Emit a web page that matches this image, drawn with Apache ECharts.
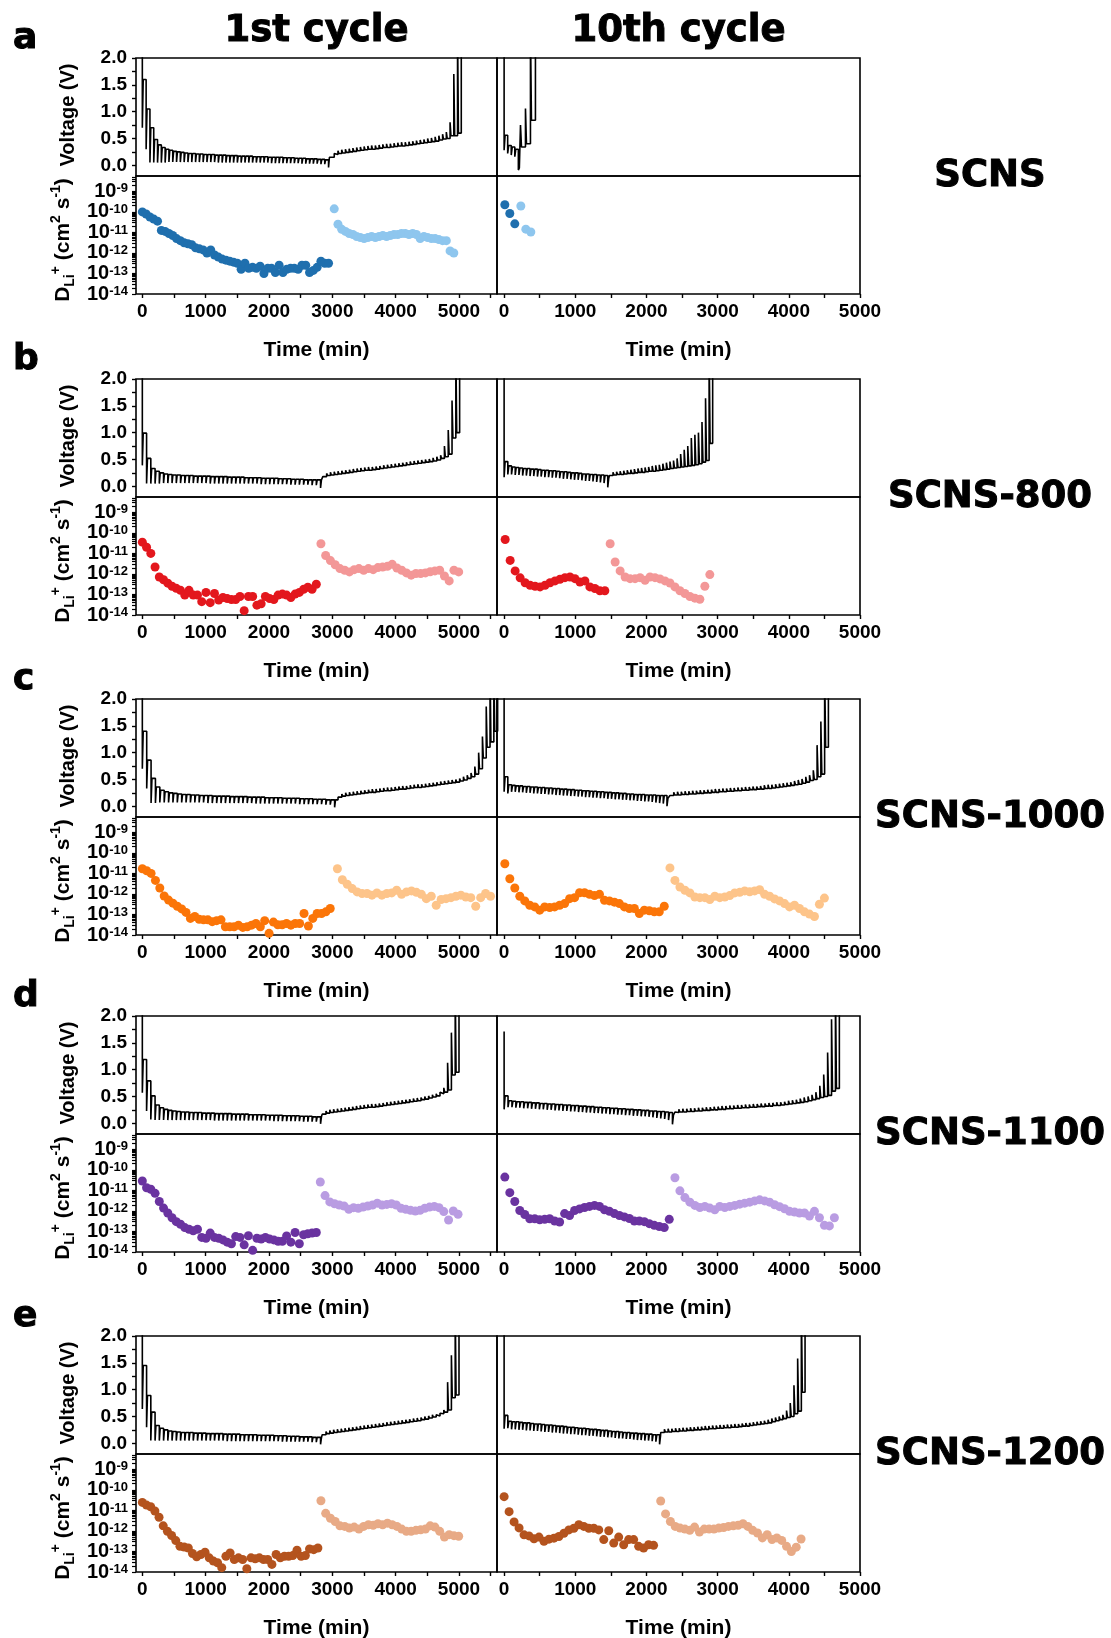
<!DOCTYPE html>
<html><head><meta charset="utf-8">
<script src="https://cdn.jsdelivr.net/npm/echarts@6/dist/echarts.min.js"></script>
<style>html,body{margin:0;padding:0;background:#fff}#c{width:1111px;height:1638px}</style>
</head><body><div id="c"></div>
<script>
// ===================== DATA =====================
// Time params: [discharge start, discharge step, charge start, charge step] (min)
// Voltage: relaxed level before each pulse (OCV) and pulse extreme (V)
// D: log10 of D_Li+ (cm2 s-1), one point per GITT step

// ---- SCNS, 1st cycle ----
const a1_tV = [0, 60, 3030, 59];
const a1_disOCV = [2.6,1.6,1.05,0.7,0.48,0.38,0.33,0.3,0.28,0.26,0.25,0.24,0.23,0.22,0.22,0.21,0.21,0.2,0.2,0.2,0.19,0.19,0.19,0.18,0.18,0.18,0.17,0.17,0.17,0.17,0.16,0.16,0.16,0.16,0.15,0.15,0.15,0.15,0.14,0.14,0.14,0.13,0.13,0.13,0.12,0.12,0.12,0.11,0.11,0.1];
const a1_disPulse = [0.7,0.3,0.05,0.05,0.05,0.05,0.05,0.06,0.06,0.06,0.06,0.06,0.06,0.06,0.06,0.06,0.06,0.06,0.06,0.06,0.05,0.05,0.05,0.05,0.05,0.05,0.05,0.05,0.05,0.05,0.05,0.05,0.05,0.05,0.04,0.04,0.04,0.04,0.04,0.04,0.04,0.04,0.03,0.03,0.03,0.03,0.03,0.02,0.02,-0.04];
const a1_chgOCV = [0.15,0.2,0.22,0.23,0.24,0.25,0.26,0.27,0.28,0.29,0.3,0.3,0.31,0.32,0.33,0.33,0.34,0.35,0.36,0.36,0.37,0.38,0.39,0.4,0.41,0.42,0.43,0.44,0.45,0.47,0.49,0.5,0.55,0.55,0.6];
const a1_chgPulse = [0.22,0.27,0.29,0.3,0.31,0.32,0.33,0.34,0.35,0.36,0.37,0.37,0.38,0.39,0.4,0.4,0.41,0.42,0.43,0.43,0.44,0.45,0.46,0.47,0.48,0.5,0.51,0.53,0.55,0.58,0.62,0.8,1.7,2.6,2.6];
const a1_tD = [0, 60, 3030, 59];
const a1_disD = [-10.0,-10.1,-10.25,-10.35,-10.45,-10.9,-10.95,-11.05,-11.15,-11.3,-11.4,-11.5,-11.55,-11.6,-11.75,-11.8,-11.85,-12.0,-11.85,-12.1,-12.2,-12.3,-12.35,-12.4,-12.45,-12.5,-12.8,-12.5,-12.75,-12.7,-12.75,-12.65,-13.0,-12.75,-12.75,-12.95,-12.6,-12.95,-12.8,-12.75,-12.75,-12.8,-12.6,-12.6,-12.95,-12.85,-12.7,-12.4,-12.5,-12.5];
const a1_chgD = [-9.85,-10.6,-10.85,-10.95,-11.05,-11.1,-11.2,-11.25,-11.3,-11.25,-11.2,-11.25,-11.2,-11.15,-11.2,-11.15,-11.1,-11.1,-11.05,-11.05,-11.1,-11.05,-11.1,-11.3,-11.2,-11.25,-11.3,-11.3,-11.35,-11.4,-11.4,-11.9,-12.0];

// ---- SCNS, 10th cycle ----
const a10_tV = [0, 50, 230, 70];
const a10_disOCV = [2.6,0.56,0.37,0.34,0.3];
const a10_disPulse = [0.28,0.22,0.19,0.16,-0.09];
const a10_chgOCV = [-0.05,0.34,0.4,0.84];
const a10_chgPulse = [0.75,1.06,2.6,2.6];
const a10_tD = [10, 70, 235, 70];
const a10_disD = [-9.65,-10.08,-10.58];
const a10_chgD = [-9.71,-10.84,-10.98];

// ---- SCNS-800, 1st cycle ----
const b1_tV = [0, 67, 2850, 60];
const b1_disOCV = [2.6,0.99,0.52,0.33,0.28,0.25,0.23,0.22,0.21,0.21,0.2,0.2,0.2,0.19,0.19,0.19,0.19,0.18,0.18,0.18,0.18,0.17,0.17,0.17,0.17,0.16,0.16,0.16,0.16,0.15,0.15,0.15,0.15,0.14,0.14,0.14,0.13,0.13,0.13,0.12,0.12,0.12,0.12];
const b1_disPulse = [0.39,0.05,0.05,0.05,0.05,0.06,0.06,0.06,0.06,0.06,0.06,0.06,0.06,0.06,0.06,0.06,0.05,0.05,0.05,0.05,0.05,0.05,0.05,0.05,0.05,0.05,0.05,0.05,0.04,0.04,0.04,0.04,0.04,0.04,0.04,0.03,0.03,0.03,0.03,0.03,0.02,0.02,-0.03];
const b1_chgOCV = [0.12,0.18,0.2,0.21,0.22,0.23,0.24,0.25,0.26,0.27,0.28,0.29,0.3,0.3,0.31,0.32,0.33,0.34,0.35,0.36,0.37,0.38,0.39,0.4,0.41,0.42,0.43,0.44,0.45,0.46,0.47,0.49,0.52,0.55,0.6,0.9,1.0];
const b1_chgPulse = [0.18,0.24,0.26,0.27,0.28,0.29,0.3,0.31,0.32,0.33,0.34,0.35,0.36,0.36,0.37,0.38,0.39,0.4,0.41,0.42,0.43,0.44,0.45,0.46,0.47,0.48,0.49,0.5,0.51,0.53,0.55,0.58,0.75,1.05,1.6,2.6,2.6];
const b1_tD = [0, 67, 2820, 75];
const b1_disD = [-10.45,-10.7,-11.0,-11.66,-12.15,-12.28,-12.45,-12.6,-12.7,-12.8,-13.03,-12.8,-13.03,-13.03,-13.35,-12.9,-13.4,-12.95,-13.27,-13.15,-13.2,-13.25,-13.25,-13.1,-13.79,-13.1,-13.1,-13.52,-13.45,-13.1,-13.2,-13.25,-13.03,-12.98,-13.03,-13.15,-12.98,-12.9,-12.75,-12.65,-12.75,-12.5];
const b1_chgD = [-10.53,-11.1,-11.35,-11.55,-11.74,-11.82,-11.9,-11.79,-11.74,-11.82,-11.74,-11.79,-11.69,-11.66,-11.63,-11.53,-11.71,-11.82,-11.95,-12.06,-11.98,-11.98,-11.95,-11.89,-11.85,-11.82,-12.1,-12.34,-11.82,-11.9];

// ---- SCNS-800, 10th cycle ----
const b10_tV = [0, 52, 1480, 50];
const b10_disOCV = [2.6,0.46,0.38,0.36,0.35,0.34,0.33,0.33,0.32,0.32,0.31,0.3,0.3,0.29,0.29,0.28,0.27,0.27,0.26,0.25,0.25,0.24,0.23,0.23,0.22,0.22,0.21,0.21,0.2];
const b10_disPulse = [0.17,0.22,0.22,0.21,0.21,0.2,0.2,0.19,0.19,0.18,0.18,0.17,0.17,0.16,0.16,0.15,0.14,0.14,0.13,0.12,0.12,0.11,0.1,0.1,0.09,0.08,0.07,0.06,-0.02];
const b10_chgOCV = [0.15,0.2,0.21,0.22,0.22,0.23,0.24,0.24,0.25,0.26,0.26,0.27,0.28,0.28,0.29,0.3,0.31,0.32,0.33,0.34,0.35,0.36,0.37,0.38,0.39,0.4,0.42,0.45,0.48,0.8];
const b10_chgPulse = [0.2,0.26,0.27,0.28,0.29,0.3,0.31,0.32,0.33,0.34,0.35,0.36,0.38,0.39,0.4,0.42,0.44,0.46,0.48,0.52,0.6,0.68,0.75,0.9,0.96,1.0,1.2,1.64,2.6,2.6];
const b10_tD = [15, 70, 1490, 70];
const b10_disD = [-10.32,-11.34,-11.85,-12.19,-12.43,-12.55,-12.6,-12.63,-12.55,-12.43,-12.34,-12.26,-12.18,-12.15,-12.23,-12.39,-12.34,-12.63,-12.71,-12.82,-12.82];
const b10_chgD = [-10.53,-11.42,-11.85,-12.15,-12.23,-12.23,-12.18,-12.31,-12.15,-12.18,-12.24,-12.34,-12.44,-12.63,-12.82,-12.95,-13.1,-13.18,-13.23,-12.6,-12.03];

// ---- SCNS-1000, 1st cycle ----
const c1_tV = [0, 69, 3090, 60];
const c1_disOCV = [2.6,1.4,0.86,0.52,0.36,0.3,0.27,0.25,0.24,0.23,0.22,0.22,0.21,0.21,0.2,0.2,0.2,0.19,0.19,0.19,0.19,0.18,0.18,0.18,0.18,0.17,0.17,0.17,0.17,0.16,0.16,0.16,0.16,0.15,0.15,0.15,0.15,0.14,0.14,0.14,0.13,0.13,0.13,0.12,0.12];
const c1_disPulse = [0.7,0.33,0.06,0.06,0.07,0.07,0.07,0.07,0.07,0.07,0.07,0.07,0.07,0.07,0.07,0.06,0.06,0.06,0.06,0.06,0.06,0.06,0.06,0.06,0.06,0.06,0.05,0.05,0.05,0.05,0.05,0.05,0.05,0.05,0.05,0.05,0.04,0.04,0.04,0.04,0.04,0.04,0.03,0.03,-0.02];
const c1_chgOCV = [0.12,0.17,0.19,0.2,0.21,0.22,0.23,0.24,0.25,0.26,0.26,0.27,0.28,0.29,0.29,0.3,0.31,0.32,0.32,0.33,0.34,0.35,0.35,0.36,0.37,0.38,0.39,0.4,0.41,0.42,0.43,0.44,0.45,0.47,0.49,0.52,0.55,0.6,0.7,0.9,1.1,1.2,1.4];
const c1_chgPulse = [0.17,0.23,0.25,0.26,0.27,0.28,0.29,0.3,0.31,0.32,0.32,0.33,0.34,0.35,0.35,0.36,0.37,0.38,0.38,0.39,0.4,0.41,0.41,0.42,0.43,0.44,0.45,0.46,0.47,0.48,0.49,0.5,0.52,0.55,0.58,0.62,0.74,1.0,1.3,1.86,2.6,2.6,2.6];
const c1_tD = [0, 69, 3080, 78];
const c1_disD = [-10.77,-10.87,-11.0,-11.34,-11.71,-12.1,-12.3,-12.45,-12.6,-12.73,-12.9,-13.19,-13.1,-13.23,-13.26,-13.26,-13.35,-13.3,-13.26,-13.6,-13.6,-13.6,-13.52,-13.63,-13.6,-13.52,-13.44,-13.6,-13.3,-13.92,-13.37,-13.5,-13.5,-13.44,-13.52,-13.44,-13.44,-12.95,-13.56,-13.19,-12.95,-12.95,-12.87,-12.71];
const c1_chgD = [-10.77,-11.31,-11.53,-11.74,-11.9,-11.98,-11.98,-12.06,-11.95,-12.06,-11.98,-11.95,-11.82,-12.02,-11.9,-11.85,-11.92,-12.02,-12.23,-12.11,-12.55,-12.27,-12.23,-12.18,-12.11,-12.06,-12.15,-12.18,-12.6,-12.18,-11.98,-12.11];

// ---- SCNS-1000, 10th cycle ----
const c10_tV = [0, 52, 2330, 53];
const c10_disOCV = [2.6,0.55,0.4,0.39,0.38,0.38,0.37,0.37,0.36,0.36,0.35,0.35,0.34,0.34,0.33,0.33,0.32,0.32,0.31,0.31,0.3,0.3,0.29,0.29,0.28,0.28,0.27,0.27,0.26,0.26,0.25,0.25,0.24,0.24,0.23,0.23,0.22,0.22,0.22,0.21,0.21,0.21,0.2,0.2,0.2];
const c10_disPulse = [0.27,0.24,0.27,0.27,0.26,0.26,0.25,0.25,0.24,0.24,0.23,0.23,0.22,0.22,0.21,0.21,0.2,0.2,0.19,0.19,0.18,0.18,0.17,0.17,0.16,0.16,0.15,0.15,0.14,0.14,0.13,0.13,0.12,0.12,0.11,0.11,0.1,0.1,0.09,0.09,0.08,0.07,0.06,0.05,0.0];
const c10_chgOCV = [0.15,0.2,0.21,0.21,0.22,0.22,0.23,0.23,0.24,0.24,0.25,0.25,0.26,0.26,0.27,0.27,0.28,0.28,0.29,0.29,0.3,0.3,0.31,0.31,0.32,0.32,0.33,0.33,0.34,0.35,0.36,0.37,0.38,0.39,0.4,0.41,0.43,0.45,0.48,0.5,0.55,0.6,1.1];
const c10_chgPulse = [0.2,0.26,0.27,0.27,0.28,0.28,0.29,0.29,0.3,0.3,0.31,0.31,0.32,0.32,0.33,0.33,0.34,0.34,0.35,0.35,0.36,0.36,0.37,0.37,0.38,0.39,0.4,0.4,0.41,0.42,0.43,0.44,0.45,0.47,0.49,0.51,0.55,0.58,0.67,1.14,1.58,2.6,2.6];
const c10_tD = [10, 70, 2330, 70];
const c10_disD = [-10.53,-11.26,-11.71,-12.11,-12.34,-12.55,-12.63,-12.79,-12.63,-12.66,-12.63,-12.55,-12.47,-12.23,-12.18,-11.94,-11.94,-12.02,-12.08,-12.02,-12.31,-12.34,-12.4,-12.47,-12.63,-12.71,-12.71,-12.95,-12.79,-12.82,-12.87,-12.87,-12.6];
const c10_chgD = [-10.73,-11.34,-11.66,-11.82,-11.95,-12.15,-12.18,-12.18,-12.27,-12.11,-12.18,-12.15,-12.08,-11.95,-11.92,-11.85,-11.89,-11.85,-11.79,-12.02,-12.11,-12.24,-12.34,-12.47,-12.63,-12.55,-12.71,-12.87,-12.98,-13.1,-12.5,-12.2];

// ---- SCNS-1100, 1st cycle ----
const d1_tV = [0, 67, 2840, 60];
const d1_disOCV = [2.6,1.19,0.79,0.51,0.34,0.29,0.26,0.24,0.23,0.22,0.21,0.21,0.2,0.2,0.2,0.19,0.19,0.19,0.18,0.18,0.18,0.18,0.17,0.17,0.17,0.17,0.16,0.16,0.16,0.16,0.15,0.15,0.15,0.15,0.14,0.14,0.14,0.14,0.13,0.13,0.13,0.12,0.12];
const d1_disPulse = [0.57,0.23,0.07,0.06,0.06,0.06,0.06,0.06,0.06,0.06,0.06,0.06,0.06,0.06,0.06,0.06,0.06,0.05,0.05,0.05,0.05,0.05,0.05,0.05,0.05,0.05,0.05,0.05,0.05,0.05,0.05,0.04,0.04,0.04,0.04,0.04,0.04,0.04,0.03,0.03,0.03,0.03,-0.01];
const d1_chgOCV = [0.12,0.17,0.19,0.2,0.21,0.22,0.23,0.24,0.25,0.26,0.27,0.28,0.29,0.3,0.3,0.31,0.32,0.33,0.34,0.35,0.36,0.37,0.38,0.39,0.4,0.41,0.42,0.44,0.45,0.47,0.49,0.51,0.55,0.58,0.62,0.9,0.95];
const d1_chgPulse = [0.17,0.23,0.25,0.26,0.27,0.28,0.29,0.3,0.31,0.32,0.33,0.34,0.35,0.36,0.36,0.37,0.38,0.39,0.4,0.41,0.42,0.43,0.44,0.45,0.46,0.47,0.48,0.5,0.51,0.53,0.55,0.58,0.66,1.13,1.69,2.6,2.6];
const d1_tD = [0, 67, 2810, 75];
const d1_disD = [-10.54,-10.87,-10.94,-11.14,-11.54,-11.86,-12.1,-12.33,-12.52,-12.65,-12.81,-12.89,-12.97,-12.89,-13.29,-13.33,-13.08,-13.29,-13.33,-13.41,-13.52,-13.6,-13.25,-13.29,-13.65,-13.21,-13.92,-13.33,-13.37,-13.29,-13.37,-13.41,-13.48,-13.48,-13.22,-13.52,-13.05,-13.6,-13.16,-13.11,-13.08,-13.05];
const d1_chgD = [-10.59,-11.25,-11.56,-11.65,-11.71,-11.76,-11.92,-11.84,-11.87,-11.81,-11.76,-11.71,-11.62,-11.71,-11.68,-11.65,-11.71,-11.87,-11.92,-11.97,-12.0,-11.97,-11.87,-11.81,-11.78,-11.84,-12.03,-12.44,-12.0,-12.16];

// ---- SCNS-1100, 10th cycle ----
const d10_tV = [0, 55, 2400, 55];
const d10_disOCV = [1.71,0.51,0.42,0.41,0.4,0.4,0.39,0.39,0.38,0.38,0.37,0.37,0.36,0.36,0.35,0.35,0.34,0.34,0.33,0.33,0.32,0.32,0.31,0.31,0.3,0.3,0.29,0.29,0.28,0.28,0.27,0.27,0.26,0.26,0.25,0.25,0.24,0.24,0.23,0.23,0.22,0.22,0.21,0.2];
const d10_disPulse = [0.26,0.3,0.3,0.29,0.29,0.28,0.28,0.27,0.27,0.26,0.26,0.25,0.25,0.24,0.24,0.23,0.23,0.22,0.22,0.21,0.21,0.2,0.2,0.19,0.19,0.18,0.18,0.17,0.17,0.16,0.16,0.15,0.15,0.14,0.14,0.13,0.13,0.12,0.11,0.1,0.09,0.08,0.06,-0.02];
const d10_chgOCV = [0.15,0.2,0.21,0.21,0.22,0.22,0.23,0.23,0.24,0.24,0.25,0.25,0.26,0.26,0.27,0.27,0.28,0.28,0.29,0.29,0.3,0.3,0.31,0.31,0.32,0.32,0.33,0.33,0.34,0.35,0.36,0.37,0.38,0.39,0.4,0.42,0.44,0.46,0.48,0.5,0.52,0.6,0.65];
const d10_chgPulse = [0.21,0.26,0.27,0.27,0.28,0.28,0.29,0.29,0.3,0.3,0.31,0.31,0.32,0.32,0.33,0.33,0.34,0.34,0.35,0.35,0.36,0.36,0.37,0.37,0.38,0.38,0.39,0.39,0.4,0.42,0.43,0.44,0.46,0.48,0.5,0.53,0.58,0.7,0.91,1.32,1.94,2.6,2.6];
const d10_tD = [10, 70, 2400, 70];
const d10_disD = [-10.35,-11.11,-11.54,-11.98,-12.17,-12.38,-12.38,-12.43,-12.41,-12.38,-12.49,-12.54,-12.13,-12.22,-11.98,-11.9,-11.83,-11.78,-11.73,-11.78,-11.94,-12.02,-12.13,-12.22,-12.29,-12.37,-12.49,-12.49,-12.52,-12.62,-12.7,-12.76,-12.81,-12.41];
const d10_chgD = [-10.38,-11.02,-11.35,-11.57,-11.73,-11.83,-11.78,-11.86,-11.94,-11.78,-11.83,-11.78,-11.73,-11.67,-11.62,-11.57,-11.51,-11.46,-11.51,-11.57,-11.7,-11.79,-11.89,-12.02,-12.05,-12.1,-12.1,-12.25,-12.02,-12.33,-12.7,-12.73,-12.33];

// ---- SCNS-1200, 1st cycle ----
const e1_tV = [0, 67, 2840, 60];
const e1_disOCV = [2.6,1.45,0.89,0.58,0.33,0.28,0.25,0.23,0.22,0.21,0.2,0.2,0.2,0.19,0.19,0.19,0.18,0.18,0.18,0.18,0.17,0.17,0.17,0.17,0.16,0.16,0.16,0.16,0.15,0.15,0.15,0.15,0.14,0.14,0.14,0.13,0.13,0.13,0.12,0.12,0.12,0.11,0.11];
const e1_disPulse = [0.64,0.3,0.05,0.05,0.05,0.05,0.05,0.05,0.05,0.05,0.05,0.05,0.05,0.05,0.05,0.05,0.05,0.05,0.05,0.05,0.04,0.04,0.04,0.04,0.04,0.04,0.04,0.04,0.04,0.04,0.04,0.04,0.04,0.03,0.03,0.03,0.03,0.03,0.03,0.03,0.02,0.02,-0.02];
const e1_chgOCV = [0.1,0.16,0.18,0.19,0.2,0.21,0.22,0.23,0.24,0.25,0.26,0.27,0.28,0.29,0.3,0.31,0.32,0.33,0.34,0.35,0.36,0.37,0.38,0.39,0.4,0.41,0.42,0.44,0.45,0.47,0.49,0.51,0.55,0.58,0.62,0.85,0.9];
const e1_chgPulse = [0.16,0.22,0.24,0.25,0.26,0.27,0.28,0.29,0.3,0.31,0.32,0.33,0.34,0.35,0.36,0.37,0.38,0.39,0.4,0.41,0.42,0.43,0.44,0.45,0.46,0.47,0.48,0.5,0.51,0.53,0.53,0.56,0.62,1.14,1.64,2.6,2.6];
const e1_tD = [0, 66, 2820, 75];
const e1_disD = [-10.61,-10.74,-10.82,-11.03,-11.33,-11.75,-12.02,-12.22,-12.47,-12.75,-12.78,-12.83,-13.1,-13.26,-13.15,-13.04,-13.31,-13.47,-13.55,-13.79,-13.23,-13.07,-13.39,-13.31,-13.39,-13.84,-13.31,-13.36,-13.31,-13.39,-13.39,-13.63,-13.15,-13.31,-13.23,-13.23,-13.2,-12.94,-13.23,-13.2,-12.88,-12.91,-12.83];
const e1_chgD = [-10.53,-11.14,-11.38,-11.54,-11.75,-11.78,-11.86,-11.81,-11.91,-11.78,-11.7,-11.72,-11.65,-11.7,-11.62,-11.7,-11.78,-11.91,-12.02,-12.02,-11.97,-11.94,-11.91,-11.75,-11.81,-12.02,-12.3,-12.18,-12.23,-12.26];

// ---- SCNS-1200, 10th cycle ----
const e10_tV = [0, 52, 2200, 52];
const e10_disOCV = [2.6,0.52,0.41,0.4,0.4,0.39,0.38,0.38,0.37,0.36,0.36,0.35,0.34,0.34,0.33,0.32,0.32,0.31,0.3,0.3,0.29,0.28,0.28,0.27,0.26,0.26,0.25,0.24,0.24,0.23,0.22,0.22,0.21,0.2,0.2,0.19,0.19,0.18,0.18,0.17,0.17,0.16,0.16];
const e10_disPulse = [0.27,0.28,0.26,0.26,0.25,0.25,0.24,0.24,0.23,0.23,0.22,0.21,0.21,0.2,0.2,0.19,0.18,0.18,0.17,0.17,0.16,0.15,0.15,0.14,0.14,0.13,0.12,0.12,0.11,0.11,0.1,0.09,0.09,0.08,0.08,0.07,0.06,0.06,0.05,0.05,0.04,0.03,-0.02];
const e10_chgOCV = [0.14,0.2,0.21,0.21,0.22,0.22,0.23,0.23,0.24,0.24,0.25,0.25,0.26,0.26,0.27,0.27,0.28,0.28,0.29,0.29,0.3,0.3,0.31,0.32,0.32,0.33,0.34,0.35,0.36,0.37,0.38,0.4,0.42,0.44,0.46,0.48,0.5,0.55,0.6,0.95];
const e10_chgPulse = [0.2,0.26,0.27,0.27,0.28,0.28,0.29,0.29,0.3,0.3,0.31,0.31,0.32,0.32,0.33,0.33,0.34,0.34,0.35,0.35,0.36,0.36,0.37,0.38,0.38,0.39,0.4,0.41,0.42,0.44,0.46,0.48,0.5,0.53,0.61,0.75,1.08,1.58,2.6,2.6];
const e10_tD = [0, 70, 2200, 68];
const e10_disD = [-10.33,-11.06,-11.56,-11.85,-12.19,-12.24,-12.38,-12.3,-12.5,-12.4,-12.35,-12.27,-12.11,-11.95,-11.87,-11.7,-11.78,-11.87,-11.87,-11.95,-12.42,-11.99,-12.59,-12.3,-12.67,-12.42,-12.42,-12.75,-12.83,-12.67,-12.7];
const e10_chgD = [-10.54,-11.17,-11.54,-11.78,-11.86,-11.91,-11.97,-11.81,-12.05,-11.91,-11.91,-11.91,-11.86,-11.83,-11.78,-11.75,-11.72,-11.65,-11.78,-11.97,-12.1,-12.34,-12.18,-12.42,-12.34,-12.46,-12.75,-13.0,-12.79,-12.39];

// Labels
const sampleNames = ['SCNS', 'SCNS-800', 'SCNS-1000', 'SCNS-1100', 'SCNS-1200'];
const panelLetters = ['a', 'b', 'c', 'd', 'e'];
const cycleTitles = ['1st cycle', '10th cycle'];
const voltTicks = [0, 0.5, 1.0, 1.5, 2.0];
const logDTicks = [-14, -13, -12, -11, -10, -9];
const timeTicks = [0, 1000, 2000, 3000, 4000, 5000];
const darkColors = ['#1f6fae', '#e3171d', '#fb7508', '#6a33a0', '#b4531e'];
const lightColors = ['#8ec6ee', '#f39797', '#fdc48a', '#b99ce2', '#e8aa86'];

// ===================== LAYOUT =====================
const FONT = '"Liberation Sans", Arial, sans-serif';
const HEAVY = '"DejaVu Sans", "Liberation Sans", sans-serif';
const ROW_TOP = [58, 379, 699, 1016, 1336];
const VH = 118, DH = 118;
const COLS = [{left: 136, width: 361, max: 5600}, {left: 497, width: 363, max: 5000}];
const XMIN = -100;
const PW = 14; // drawn pulse duration (min)

function voltageLine(tV, dO, dP, cO, cP) {
  const out = [];
  for (let i = 0; i < dP.length; i++) {
    const t = tV[0] + i * tV[1];
    out.push([t, dO[i]], [t, dP[i]], [t + PW, dP[i]]);
    out.push([t + PW, i + 1 < dO.length ? dO[i + 1] : cO[0]]);
  }
  for (let j = 0; j < cP.length; j++) {
    const t = tV[2] + j * tV[3];
    out.push([t, cO[j]], [t, cP[j]], [t + PW, cP[j]]);
    if (j + 1 < cO.length) out.push([t + PW, cO[j + 1]]);
  }
  return out;
}
function dPoints(t0, dt, arr) { return arr.map((v, i) => [t0 + i * dt, v]); }

const panels = [
  [a1_tV, a1_disOCV, a1_disPulse, a1_chgOCV, a1_chgPulse, a1_tD, a1_disD, a1_chgD],
  [a10_tV, a10_disOCV, a10_disPulse, a10_chgOCV, a10_chgPulse, a10_tD, a10_disD, a10_chgD],
  [b1_tV, b1_disOCV, b1_disPulse, b1_chgOCV, b1_chgPulse, b1_tD, b1_disD, b1_chgD],
  [b10_tV, b10_disOCV, b10_disPulse, b10_chgOCV, b10_chgPulse, b10_tD, b10_disD, b10_chgD],
  [c1_tV, c1_disOCV, c1_disPulse, c1_chgOCV, c1_chgPulse, c1_tD, c1_disD, c1_chgD],
  [c10_tV, c10_disOCV, c10_disPulse, c10_chgOCV, c10_chgPulse, c10_tD, c10_disD, c10_chgD],
  [d1_tV, d1_disOCV, d1_disPulse, d1_chgOCV, d1_chgPulse, d1_tD, d1_disD, d1_chgD],
  [d10_tV, d10_disOCV, d10_disPulse, d10_chgOCV, d10_chgPulse, d10_tD, d10_disD, d10_chgD],
  [e1_tV, e1_disOCV, e1_disPulse, e1_chgOCV, e1_chgPulse, e1_tD, e1_disD, e1_chgD],
  [e10_tV, e10_disOCV, e10_disPulse, e10_chgOCV, e10_chgPulse, e10_tD, e10_disD, e10_chgD]
];

// tick positions
const voltTickPos = [0, 0.25, 0.5, 0.75, 1.0, 1.25, 1.5, 1.75, 2.0];
const logTickPos = [];
for (let n = -14; n <= -9; n++) for (let k = 1; k <= 9; k++) { const v = n + Math.log10(k); if (v <= -8.25) logTickPos.push(v); }
const timeTickPosL = [0,500,1000,1500,2000,2500,3000,3500,4000,4500,5000,5500];
const timeTickPosR = [0,500,1000,1500,2000,2500,3000,3500,4000,4500,5000];

const grids = [], xAxes = [], yAxes = [], series = [], graphics = [];
const labelStyle = {color: '#000', fontFamily: FONT, fontWeight: 'bold', fontSize: 19};

panels.forEach((p, idx) => {
  const row = Math.floor(idx / 2), col = idx % 2;
  const C = COLS[col], top = ROW_TOP[row];
  const gV = grids.length;
  grids.push({left: C.left, top: top, width: C.width, height: VH, show: true, borderColor: '#000', borderWidth: 1.6, backgroundColor: 'transparent'});
  const gD = grids.length;
  grids.push({left: C.left, top: top + VH, width: C.width, height: DH, show: true, borderColor: '#000', borderWidth: 1.6, backgroundColor: 'transparent'});

  const xV = xAxes.length;
  xAxes.push({gridIndex: gV, type: 'value', min: XMIN, max: C.max, axisLine: {show: false, onZero: false}, axisTick: {show: false}, axisLabel: {show: false}, splitLine: {show: false}});
  const xD = xAxes.length;
  xAxes.push({gridIndex: gD, type: 'value', min: XMIN, max: C.max, position: 'bottom',
    axisLine: {show: false, onZero: false}, splitLine: {show: false},
    axisTick: {show: true, inside: false, length: 4, customValues: col === 0 ? timeTickPosL : timeTickPosR, lineStyle: {color: '#000', width: 1.4}},
    axisLabel: Object.assign({show: true, margin: 8, customValues: timeTicks, hideOverlap: false, formatter: v => String(Math.round(v))}, labelStyle)});

  const yV = yAxes.length;
  yAxes.push({gridIndex: gV, type: 'value', min: -0.2, max: 2.0, position: 'left',
    axisLine: {show: false, onZero: false}, splitLine: {show: false},
    axisTick: {show: col === 0, inside: false, length: 4, customValues: voltTickPos, lineStyle: {color: '#000', width: 1.4}},
    axisLabel: Object.assign({show: col === 0, margin: 9, customValues: voltTicks, hideOverlap: false, formatter: v => Number(v).toFixed(1)}, labelStyle)});
  const yD = yAxes.length;
  yAxes.push({gridIndex: gD, type: 'value', min: -14, max: -8.25, position: 'left',
    axisLine: {show: false, onZero: false}, splitLine: {show: false},
    axisTick: {show: col === 0, inside: false, length: 4, customValues: logTickPos, lineStyle: {color: '#000', width: 1.2}},
    axisLabel: {show: col === 0, margin: 8, customValues: logDTicks, hideOverlap: false, showMinLabel: true, showMaxLabel: true,
      formatter: v => '{b|10}{s|' + Math.round(v) + '}',
      rich: {
        b: {fontFamily: FONT, fontWeight: 'bold', fontSize: 20, color: '#000', lineHeight: 18},
        s: {fontFamily: FONT, fontWeight: 'bold', fontSize: 13, color: '#000', lineHeight: 12, verticalAlign: 'top'}
      }}});

  series.push({type: 'line', xAxisIndex: xV, yAxisIndex: yV, data: voltageLine(p[0], p[1], p[2], p[3], p[4]),
    showSymbol: false, symbol: 'none', clip: true, silent: true, lineStyle: {color: '#000', width: 1.6}});
  const t = p[5];
  series.push({type: 'scatter', xAxisIndex: xD, yAxisIndex: yD, data: dPoints(t[0], t[1], p[6]),
    symbol: 'circle', symbolSize: 9, itemStyle: {color: darkColors[row], opacity: 1}, silent: true, z: 3});
  series.push({type: 'scatter', xAxisIndex: xD, yAxisIndex: yD, data: dPoints(t[2], t[3], p[7]),
    symbol: 'circle', symbolSize: 9, itemStyle: {color: lightColors[row], opacity: 1}, silent: true, z: 3});

  graphics.push({type: 'text', x: C.left + C.width / 2, y: top + VH + DH + 56,
    style: {text: 'Time (min)', fill: '#000', fontFamily: FONT, fontWeight: 'bold', fontSize: 21, align: 'center', verticalAlign: 'middle', textAlign: 'center', textVerticalAlign: 'middle'}});
});

ROW_TOP.forEach((top, r) => {
  graphics.push({type: 'text', x: 68, y: top + 57, rotation: Math.PI / 2,
    style: {text: 'Voltage (V)', fill: '#000', fontFamily: FONT, fontWeight: 'bold', fontSize: 20, align: 'center', verticalAlign: 'middle', textAlign: 'center', textVerticalAlign: 'middle'}});
  graphics.push({type: 'text', x: 63, y: top + VH + 64, rotation: Math.PI / 2,
    style: {text: '{d|D}{sub|Li}{sup|+}{d| (cm}{sup|2}{d| s}{sup|-1}{d|)}', fill: '#000', align: 'center', verticalAlign: 'middle', textAlign: 'center', textVerticalAlign: 'middle',
      rich: {
        d: {fontFamily: FONT, fontWeight: 'bold', fontSize: 21, fill: '#000', lineHeight: 28},
        sub: {fontFamily: FONT, fontWeight: 'bold', fontSize: 14, fill: '#000', lineHeight: 13, verticalAlign: 'bottom'},
        sup: {fontFamily: FONT, fontWeight: 'bold', fontSize: 14, fill: '#000', lineHeight: 13, verticalAlign: 'top'}
      }}});
  graphics.push({type: 'text', x: 13, y: top - 19,
    style: {text: panelLetters[r], fill: '#000', stroke: '#000', lineWidth: 1, fontFamily: HEAVY, fontWeight: 'bold', fontSize: 36, align: 'left', verticalAlign: 'middle', textAlign: 'left', textVerticalAlign: 'middle'}});
  graphics.push({type: 'text', x: 990, y: top + VH,
    style: {text: sampleNames[r], fill: '#000', stroke: '#000', lineWidth: 1, fontFamily: HEAVY, fontWeight: 'bold', fontSize: 37, align: 'center', verticalAlign: 'middle', textAlign: 'center', textVerticalAlign: 'middle'}});
});
cycleTitles.forEach((txt, c) => {
  graphics.push({type: 'text', x: COLS[c].left + COLS[c].width / 2, y: 31,
    style: {text: txt, fill: '#000', stroke: '#000', lineWidth: 1, fontFamily: HEAVY, fontWeight: 'bold', fontSize: 37, align: 'center', verticalAlign: 'middle', textAlign: 'center', textVerticalAlign: 'middle'}});
});

const chart = echarts.init(document.getElementById('c'), null, {renderer: 'canvas'});
chart.setOption({
  animation: false,
  backgroundColor: '#fff',
  grid: grids, xAxis: xAxes, yAxis: yAxes, series: series, graphic: graphics
});
</script>
</body></html>
